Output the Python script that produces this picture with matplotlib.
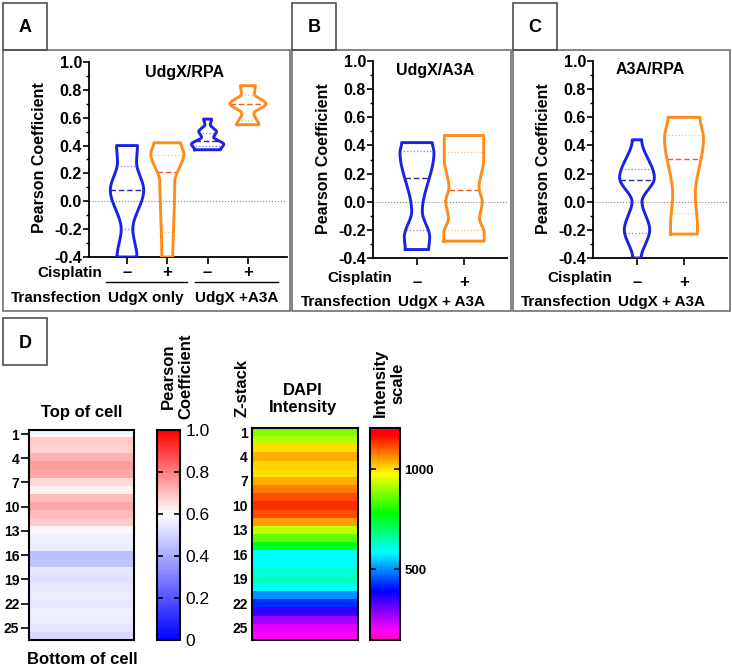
import matplotlib
matplotlib.use("Agg")
import matplotlib.pyplot as plt
import numpy as np
from matplotlib.patches import Rectangle
from matplotlib.lines import Line2D
from matplotlib.colors import LinearSegmentedColormap
from matplotlib.ticker import MultipleLocator

plt.rcParams['font.family'] = ['Liberation Sans', 'DejaVu Sans']
plt.rcParams['font.weight'] = 'bold'
plt.rcParams['axes.unicode_minus'] = False

# ---- violin data (knot heights, half widths in x units, quartiles) ----
a_pos = [1, 2, 3, 4]
a_y = [
    [-0.40, -0.20, 0.08, 0.28, 0.40],
    [-0.40, 0.14, 0.34, 0.42],
    [0.37, 0.41, 0.46, 0.50, 0.55, 0.59],
    [0.55, 0.63, 0.70, 0.77, 0.83],
]
a_w = [
    [0.248, 0.144, 0.414, 0.236, 0.26],
    [0.136, 0.186, 0.41, 0.335],
    [0.32, 0.40, 0.15, 0.22, 0.067, 0.10],
    [0.273, 0.149, 0.447, 0.161, 0.186],
]
a_q = [(-0.20, 0.08, 0.25), (-0.22, 0.21, 0.33), (0.40, 0.43, 0.49), (0.58, 0.70, 0.76)]

b_pos = [1, 2]
b_y = [
    [-0.34, -0.25, -0.07, 0.35, 0.42],
    [-0.28, -0.22, -0.12, 0.00, 0.10, 0.30, 0.47],
]
b_w = [
    [0.249, 0.27, 0.113, 0.362, 0.326],
    [0.43, 0.43, 0.33, 0.39, 0.32, 0.42, 0.42],
]
b_q = [(-0.20, 0.17, 0.36), (-0.20, 0.08, 0.35)]

c_pos = [1, 2]
c_y = [
    [-0.40, -0.20, 0.00, 0.17, 0.44],
    [-0.23, -0.17, 0.05, 0.45, 0.60],
]
c_w = [
    [0.09, 0.27, 0.106, 0.37, 0.10],
    [0.283, 0.287, 0.24, 0.415, 0.34],
]
c_q = [(-0.22, 0.155, 0.235), (-0.08, 0.305, 0.475)]

titles = ['UdgX/RPA', 'UdgX/A3A', 'A3A/RPA']
cis_a = ['–', '+', '–', '+']
cis_bc = ['–', '+']
y_ticks = [-0.4, -0.2, 0.0, 0.2, 0.4, 0.6, 0.8, 1.0]

# ---- z-stack heatmaps ----
z_labels = [1, 4, 7, 10, 13, 16, 19, 22, 25]
pearson_z = [0.58, 0.68, 0.67, 0.72, 0.75, 0.736, 0.66, 0.62, 0.70, 0.736, 0.71, 0.68, 0.61,
             0.565, 0.555, 0.45, 0.46, 0.54, 0.53, 0.545, 0.555, 0.545, 0.56, 0.555, 0.54, 0.51]
dapi_z = [876, 917, 1000, 1037, 1007, 1000, 1037, 1075, 1113, 1136, 1113, 1049, 928,
          855, 760, 584, 584, 619, 633, 590, 498, 426, 352, 266, 217, 194]

BLUE = '#1a22e6'
ORANGE = '#ff8c1a'
MED = {BLUE: '#2a2aa0', ORANGE: '#e8602a'}
QRT = {BLUE: '#7a7aff', ORANGE: '#ffc07a'}

W, H = 732, 669
fig = plt.figure(figsize=(7.32, 6.69), dpi=100)


def px_axes(x0, y0, x1, y1):
    return fig.add_axes([x0 / W, 1 - y1 / H, (x1 - x0) / W, (y1 - y0) / H])


def px_text(x, y, s, **kw):
    kw.setdefault('ha', 'center')
    kw.setdefault('va', 'center')
    fig.text(x / W, 1 - y / H, s, **kw)


def px_rect(x0, y0, x1, y1, color='#707070'):
    fig.add_artist(Rectangle((x0 / W, 1 - y1 / H), (x1 - x0) / W, (y1 - y0) / H,
                             transform=fig.transFigure, fill=False, lw=1.2, ec=color))


def px_line(x0, x1, y):
    fig.add_artist(Line2D([x0 / W, x1 / W], [1 - y / H] * 2, transform=fig.transFigure,
                          color='k', lw=1))


def profile(ys, ws, n=300):
    yy = np.linspace(ys[0], ys[-1], n)
    ww = np.zeros(n)
    for i in range(len(ys) - 1):
        m = (yy >= ys[i]) & (yy <= ys[i + 1])
        t = (yy[m] - ys[i]) / (ys[i + 1] - ys[i])
        s = t * t * (3 - 2 * t)
        ww[m] = ws[i] + (ws[i + 1] - ws[i]) * s
    return yy, ww


def violin(ax, c, ys, ws, q, color):
    yy, ww = profile(ys, ws)
    xs = np.r_[c - ww, (c + ww)[::-1], c - ww[0]]
    yv = np.r_[yy, yy[::-1], yy[0]]
    ax.plot(xs, yv, color=color, lw=2.1, solid_joinstyle='round', zorder=3)
    for k, v in enumerate(q):
        w = np.interp(v, yy, ww)
        if k == 1:
            ax.plot([c - w, c + w], [v, v], color=MED[color], lw=1.0, ls=(0, (4, 2)), zorder=2)
        else:
            ax.plot([c - w, c + w], [v, v], color=QRT[color], lw=0.9, ls=':', zorder=2)


def violin_axes(box, xlim, pos, ys_list, ws_list, qs, xlabels, title, title_xy, pad):
    ax = px_axes(*box)
    for i, p in enumerate(pos):
        violin(ax, p, ys_list[i], ws_list[i], qs[i], BLUE if i % 2 == 0 else ORANGE)
    ax.axhline(0, color='#888888', lw=0.8, ls=':', zorder=1)
    ax.set_xlim(*xlim)
    ax.set_ylim(-0.4, 1.0)
    ax.set_yticks(y_ticks, [f"{round(v, 1) + 0:.1f}" for v in y_ticks])
    ax.yaxis.set_minor_locator(MultipleLocator(0.1))
    ax.set_xticks(pos, xlabels)
    for s in ['top', 'right']:
        ax.spines[s].set_visible(False)
    for s in ['left', 'bottom']:
        ax.spines[s].set_linewidth(1.3)
    ax.tick_params(axis='y', which='major', length=4, width=1.2, pad=1, labelsize=11.5)
    ax.tick_params(axis='y', which='minor', length=2.5, width=1.0)
    ax.tick_params(axis='x', length=5, width=1.2, pad=pad, labelsize=12)
    ax.patch.set_alpha(0)
    px_text(title_xy[0], title_xy[1], title, fontsize=11.5)
    return ax


# panel frames and letter boxes
px_rect(3, 50, 290, 311)
px_rect(292, 50, 511, 311)
px_rect(513, 50, 730, 311)
for (x0, y0, lab) in [(3, 3, 'A'), (292, 3, 'B'), (513, 3, 'C'), (3, 318, 'D')]:
    px_rect(x0, y0, x0 + 44, y0 + 47, color='#505050')
    px_text(x0 + 22, y0 + 25, lab, fontsize=13)

# panel A
violin_axes((89, 62, 287, 257), (0.057, 4.97), a_pos, a_y, a_w, a_q, cis_a,
            titles[0], (185, 72), 1)
px_text(40, 158, 'Pearson Coefficient', rotation=90, fontsize=11.5)
px_text(102, 273, 'Cisplatin', ha='right', fontsize=11)
px_line(106, 187, 282)
px_line(195, 278, 282)
px_text(102, 298, 'Transfection', ha='right', fontsize=11)
px_text(146, 298, 'UdgX only', fontsize=11)
px_text(237, 298, 'UdgX +A3A', fontsize=11)

# panels B and C
for k, (x0, pos, ys, ws, qs) in enumerate([(373, b_pos, b_y, b_w, b_q),
                                            (593, c_pos, c_y, c_w, c_q)]):
    off = 290 + 220 * k
    violin_axes((x0, 61, x0 + 134, 258), (0.064, 2.915), pos, ys, ws, qs, cis_bc,
                titles[k + 1], (off + 145 - 5 * k, 70), 7)
    px_text(off + 33, 159, 'Pearson Coefficient', rotation=90, fontsize=11.5)
    px_text(off + 102, 278, 'Cisplatin', ha='right', fontsize=11)
    px_text(off + 102, 302, 'Transfection', ha='right', fontsize=11)
    px_text(off + 152, 302, 'UdgX + A3A', fontsize=11)

# panel D: Pearson coefficient by z-stack
bwr = LinearSegmentedColormap.from_list('bwr6', [(0, '#0000ff'), (0.6, '#ffffff'), (1, '#ff0000')])
ax1 = px_axes(29, 430, 134, 640)
im1 = ax1.imshow(np.array(pearson_z).reshape(-1, 1), cmap=bwr, vmin=0, vmax=1,
                 aspect='auto', interpolation='nearest')
ax1.set_xticks([])
ax1.set_yticks([z - 1 for z in z_labels], [str(z) for z in z_labels])
ax1.tick_params(axis='y', length=6, width=1.2, pad=1, labelsize=10)
for s in ax1.spines.values():
    s.set_linewidth(1.5)
cax1 = px_axes(157, 430, 180, 640)
cb1 = fig.colorbar(im1, cax=cax1)
cb1.set_ticks([0, 0.2, 0.4, 0.6, 0.8, 1.0], labels=['0', '0.2', '0.4', '0.6', '0.8', '1.0'])
cax1.tick_params(direction='in', left=True, right=True, length=4, width=1.2, pad=4, labelsize=12.5)
for t in cax1.get_yticklabels():
    t.set_fontweight('normal')
cb1.outline.set_linewidth(1.5)
px_text(177, 376, 'Pearson\nCoefficient', rotation=90, fontsize=12, multialignment='center')
px_text(82, 413, 'Top of cell', fontsize=12)
px_text(82, 660, 'Bottom of cell', fontsize=12)

# panel D: DAPI intensity by z-stack
ax2 = px_axes(252, 428, 358, 640)
im2 = ax2.imshow(np.array(dapi_z).reshape(-1, 1), cmap='gist_rainbow_r', vmin=145, vmax=1205,
                 aspect='auto', interpolation='nearest')
ax2.set_xticks([])
ax2.set_yticks([z - 1 for z in z_labels], [str(z) for z in z_labels])
ax2.tick_params(axis='y', length=0, pad=3, labelsize=10)
for s in ax2.spines.values():
    s.set_linewidth(1.5)
cax2 = px_axes(370, 428, 400, 640)
cb2 = fig.colorbar(im2, cax=cax2)
cb2.set_ticks([500, 1000])
cax2.tick_params(direction='in', left=True, right=True, length=4, width=1.2, pad=3, labelsize=9.5)
cb2.outline.set_linewidth(1.5)
px_text(303, 399, 'DAPI\nIntensity', fontsize=12, multialignment='center')
px_text(242, 388, 'Z-stack', rotation=90, fontsize=12)
px_text(389, 383, 'Intensity\nscale', rotation=90, fontsize=12, multialignment='center')

fig.savefig('out.png', dpi=100)
